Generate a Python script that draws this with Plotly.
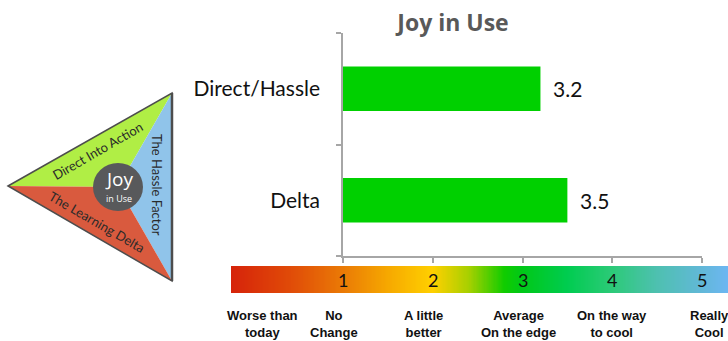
import numpy as np
import plotly.graph_objects as go

# ---------------- data ----------------
categories = ["Direct/Hassle", "Delta"]
scores = [3.2, 3.5]
chart_title = "Joy in Use"

scale_ticks = [1, 2, 3, 4, 5]
scale_labels = ["Worse than<br>today", "No<br>Change", "A little<br>better",
                "Average<br>On the edge", "On the way<br>to cool", "Really<br>Cool"]
scale_label_pos = [0.1, 0.9, 1.9, 2.95, 4.0, 5.08]

icon_sections = ["Direct Into Action", "The Hassle Factor", "The Learning Delta"]
icon_center = ["Joy", "in Use"]

# ---------------- geometry helpers (pixels -> paper) ----------------
W, H = 728, 341
def px(x):
    return x / W
def py(y):
    return 1 - y / H

X0, X5 = 343, 702            # pixel positions of scale value 1 and 5
unit = (X5 - X0) / 4.0
grad_left, grad_right = 231, 728
g_lo = 1 - (X0 - grad_left) / unit
g_hi = g_lo + (grad_right - grad_left) / unit

fig = go.Figure()

# bars
fig.add_trace(go.Bar(
    y=categories, x=scores, orientation="h", width=0.4,
    marker=dict(color="#00d000", line=dict(width=0)),
    xaxis="x", yaxis="y", hoverinfo="skip",
))

# gradient scale (style band)
gx = np.linspace(g_lo, g_hi, 400)
stops = [(-0.25, "#d6230a"), (0.4, "#e04a08"), (1.0, "#ea7a06"), (1.5, "#f6a800"),
         (2.0, "#ffd000"), (2.4, "#a8d000"), (2.8, "#10cc00"), (3.0, "#00c818"),
         (3.5, "#00cc50"), (4.0, "#2cca78"), (4.5, "#4ec0b0"), (5.0, "#62b8d8"),
         (g_hi, "#6cb6f2")]
cscale = [[(v - g_lo) / (g_hi - g_lo), c] for v, c in stops]
cscale[0][0] = 0.0
cscale[-1][0] = 1.0
fig.add_trace(go.Heatmap(
    x=gx, y=[0], z=[gx], colorscale=cscale, zmin=g_lo, zmax=g_hi,
    showscale=False, hoverinfo="skip", xaxis="x2", yaxis="y2",
))

annotations = []
# value labels next to bars
for cat, v in zip(categories, scores):
    annotations.append(dict(x=v, y=cat, xref="x", yref="y", text=f"{v:.1f}", showarrow=False,
                            xanchor="left", yanchor="middle", xshift=11,
                            font=dict(family="Lato", size=21, color="#111111")))
for t in scale_ticks:
    annotations.append(dict(x=t, y=0, xref="x2", yref="y2", text=str(t), showarrow=False,
                            font=dict(family="Lato", size=18, color="#111111"),
                            xanchor="center", yanchor="middle"))
for lab, pos in zip(scale_labels, scale_label_pos):
    annotations.append(dict(x=pos, y=py(324), xref="x2", yref="paper", text=f"<b>{lab}</b>",
                            showarrow=False, font=dict(family="Liberation Sans", size=13, color="#111111"),
                            xanchor="center", yanchor="middle"))

# ---------------- icon (triangle) on pixel axes ----------------
L, T, B, C = (8, 186), (172, 93), (172, 281), (118, 187)
def tri(a, b, c):
    return f"M {a[0]} {a[1]} L {b[0]} {b[1]} L {c[0]} {c[1]} Z"
shapes = [
    dict(type="path", path=tri(L, T, C), xref="x3", yref="y3", fillcolor="#b0ee45", line=dict(width=0)),
    dict(type="path", path=tri(T, B, C), xref="x3", yref="y3", fillcolor="#90c4ea", line=dict(width=0)),
    dict(type="path", path=tri(B, L, C), xref="x3", yref="y3", fillcolor="#d95a3e", line=dict(width=0)),
    dict(type="path", path=tri(L, T, B), xref="x3", yref="y3", fillcolor="rgba(0,0,0,0)",
         line=dict(color="#4d4d4d", width=1.5)),
    dict(type="line", x0=T[0], y0=T[1], x1=B[0], y1=B[1], xref="x3", yref="y3",
         line=dict(color="#4d4d4d", width=2.5)),
    dict(type="circle", x0=C[0] - 25, x1=C[0] + 25, y0=C[1] - 24, y1=C[1] + 24,
         xref="x3", yref="y3", fillcolor="#58595b", line=dict(width=0)),
]
icon_txt = dict(family="Lato", size=13, color="#2a2a2a")
annotations += [
    dict(x=97, y=151, xref="x3", yref="y3", text=icon_sections[0], textangle=-30,
         showarrow=False, font=icon_txt),
    dict(x=157, y=185, xref="x3", yref="y3", text=icon_sections[1], textangle=90,
         showarrow=False, font=icon_txt),
    dict(x=97, y=222, xref="x3", yref="y3", text=icon_sections[2], textangle=30,
         showarrow=False, font=icon_txt),
    dict(x=119, y=179, xref="x3", yref="y3", text=icon_center[0], showarrow=False,
         font=dict(family="Open Sans", size=19, color="white")),
    dict(x=119, y=198, xref="x3", yref="y3", text=icon_center[1], showarrow=False,
         font=dict(family="Open Sans", size=9, color="white")),
]

axis_col = "#a6a6a6"
fig.update_layout(
    width=W, height=H, margin=dict(l=0, r=0, t=0, b=0),
    paper_bgcolor="white", plot_bgcolor="rgba(0,0,0,0)", showlegend=False,
    title=dict(text=f"<b>{chart_title}</b>", x=px(453), y=py(23), xanchor="center", yanchor="middle",
               font=dict(family="Open Sans", size=23, color="#595959")),
    xaxis=dict(domain=[px(X0), px(X5)], range=[1, 5], anchor="y", showgrid=False, zeroline=False,
               showline=True, linecolor=axis_col, linewidth=1.5, ticks="outside", tickvals=scale_ticks,
               ticklen=5, tickcolor=axis_col, tickwidth=1.5, showticklabels=False),
    yaxis=dict(domain=[py(256), py(33)], anchor="x", type="category",
               categoryorder="array", categoryarray=categories[::-1],
               showgrid=False, zeroline=False, showline=True, linecolor=axis_col, linewidth=1.5,
               ticks="outside", tickson="boundaries", ticklen=5, tickcolor=axis_col, tickwidth=1.5,
               tickfont=dict(family="Lato", size=21, color="#111111"), ticklabelstandoff=17),
    xaxis2=dict(domain=[px(grad_left), 1.0], range=[g_lo, g_hi], anchor="y2", visible=False),
    yaxis2=dict(domain=[py(293), py(266)], range=[-0.5, 0.5], anchor="x2", visible=False),
    xaxis3=dict(domain=[0, px(190)], range=[0, 190], anchor="y3", visible=False),
    yaxis3=dict(domain=[py(300), py(80)], range=[300, 80], anchor="x3", visible=False),
    shapes=shapes, annotations=annotations,
)

fig.write_html("out.html")
